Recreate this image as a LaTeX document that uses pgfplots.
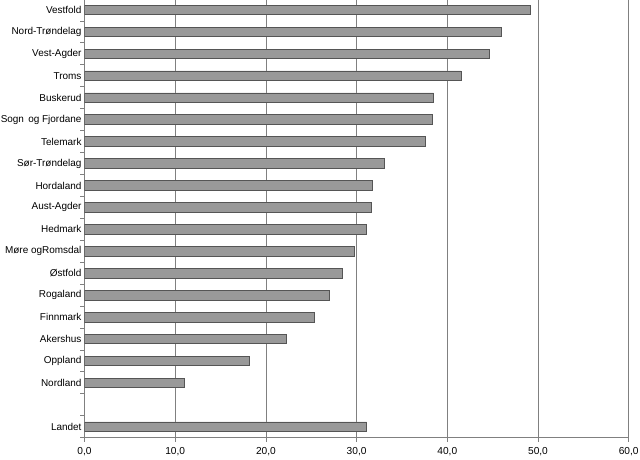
\documentclass[border=0pt]{standalone}
\usepackage{fontspec}
\setmainfont{Liberation Sans}
\usepackage{pgfplots}
\pgfplotsset{compat=1.18}
\definecolor{barfill}{RGB}{153,153,153}
\definecolor{baredge}{RGB}{85,85,85}
\definecolor{gridc}{RGB}{128,128,128}
\begin{document}
\begin{tikzpicture}
\begin{axis}[
  scale only axis,
  width=544.2bp, height=438.7bp,
  xmin=0, xmax=60, ymin=-0.5, ymax=19.5,
  axis x line*=bottom, axis y line*=left,
  axis line style={gridc, line width=0.8bp},
  xtick={0,10,...,60},
  xmajorgrids=true,
  major grid style={gridc, line width=0.8bp},
  tick align=outside,
  major tick length=4bp,
  minor tick length=4bp,
  xtick style={gridc, line width=0.8bp},
  ytick={0,...,19},
  yticklabels={Landet,{},Nordland,Oppland,Akershus,Finnmark,Rogaland,Østfold,Møre ogRomsdal,Hedmark,Aust-Agder,Hordaland,Sør-Trøndelag,Telemark,Sogn\hspace{1.5bp} og Fjordane,Buskerud,Troms,Vest-Agder,Nord-Trøndelag,Vestfold},
  major y tick style={draw=none},
  minor ytick={-0.5,0.5,...,19.5},
  minor y tick style={gridc, line width=0.8bp},
  ymajorgrids=false, yminorgrids=false,
  /pgf/number format/assume math mode=true,
  xticklabel style={font=\fontsize{10.2}{12}\selectfont, yshift=-2bp, /pgf/number format/.cd, fixed, fixed zerofill, precision=1, use comma},
  yticklabel style={font=\fontsize{10}{12}\selectfont, xshift=4.5bp},
  xbar, bar width=9.6bp,
]
\addplot[fill=barfill, draw=baredge, line width=0.7bp] coordinates {
(49.2,19) (46.0,18) (44.6,17) (41.5,16) (38.5,15) (38.3,14) (37.6,13)
(33.1,12) (31.7,11) (31.6,10) (31.1,9) (29.7,8) (28.4,7) (27.0,6)
(25.3,5) (22.2,4) (18.2,3) (11.0,2) (31.1,0)
};
\end{axis}
\pgfresetboundingbox
\path ([shift={(-84.5bp,-1bp)}]current axis.north west) rectangle ([shift={(11.3bp,-22.3bp)}]current axis.south east);
\end{tikzpicture}
\end{document}
